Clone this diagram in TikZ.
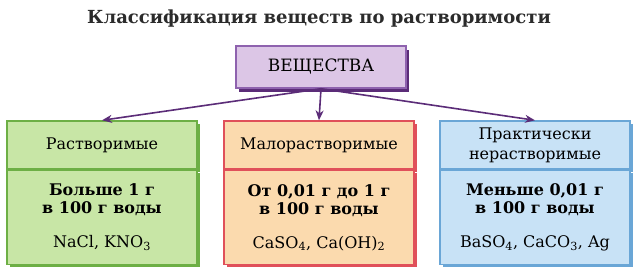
\documentclass[tikz,border=0pt]{standalone}
\usepackage{fontspec}
\setmainfont{DejaVu Serif}
\usepackage{xcolor}
\usetikzlibrary{positioning,shadows,arrows.meta}

\definecolor{substfill}{HTML}{DCC6E6}
\definecolor{substline}{HTML}{8E62AE}
\definecolor{substshade}{HTML}{5B2C78}
\definecolor{solfill}{HTML}{C8E6A6}
\definecolor{solline}{HTML}{6DAF45}
\definecolor{lowfill}{HTML}{FBDAAE}
\definecolor{lowline}{HTML}{E0505A}
\definecolor{insfill}{HTML}{C8E2F6}
\definecolor{insline}{HTML}{6AA6D6}
\definecolor{titlegray}{HTML}{2B2B2B}

\begin{document}
\begin{tikzpicture}[
    x=1pt, y=-1pt,
    node distance=0pt and 0pt,
    ttl/.style={font=\fontsize{18}{20}\selectfont\bfseries, text=titlegray},
    topbox/.style={draw=substline, fill=substfill, line width=1.4pt,
                minimum width=170pt, minimum height=42pt,
                font=\fontsize{17}{19}\selectfont,
                drop shadow={fill=substshade, opacity=1, shadow xshift=3pt, shadow yshift=-4pt}},
    head/.style={draw=#1line, fill=#1fill, line width=1.4pt,
                minimum width=190pt, minimum height=48pt, align=center,
                font=\fontsize{16}{20}\selectfont,
                drop shadow={fill=#1line, opacity=1, shadow xshift=3pt, shadow yshift=-3pt}},
    body/.style={draw=#1line, fill=#1fill, line width=1.4pt,
                minimum width=190pt, minimum height=94pt, align=center,
                font=\fontsize{16}{18}\selectfont,
                drop shadow={fill=#1line, opacity=1, shadow xshift=3pt, shadow yshift=-3pt}},
    arrow/.style={-{Stealth[length=10pt, width=8pt]}, line width=1.6pt, draw=substshade}
]
    \fill[white] (0,0) rectangle (638,276);
    \useasboundingbox (0,0) rectangle (638,276);

    \node[ttl] (title) at (319,19) {Классификация веществ по растворимости};
    \node[topbox] (subst) at (321,67) {ВЕЩЕСТВА};

    % three groups
    \node[head=sol] (solhead) at (102,145) {Растворимые};
    \node[body=sol, below=of solhead] (solbody)
        {\textbf{Больше 1 г}\\\textbf{в 100 г воды}\\[16pt]NaCl, KNO\textsubscript{3}};

    \node[head=low] (lowhead) at (319,145) {Малорастворимые};
    \node[body=low, below=of lowhead] (lowbody)
        {\textbf{От 0,01 г до 1 г}\\\textbf{в 100 г воды}\\[16pt]CaSO\textsubscript{4}, Ca(OH)\textsubscript{2}};

    \node[head=ins] (inshead) at (535,145) {Практически\\нерастворимые};
    \node[body=ins, below=of inshead] (insbody)
        {\textbf{Меньше 0,01 г}\\\textbf{в 100 г воды}\\[16pt]BaSO\textsubscript{4}, CaCO\textsubscript{3}, Ag};

    \draw[arrow] (subst.south) -- (solhead.north);
    \draw[arrow] (subst.south) -- (lowhead.north);
    \draw[arrow] (subst.south) -- (inshead.north);
\end{tikzpicture}
\end{document}
